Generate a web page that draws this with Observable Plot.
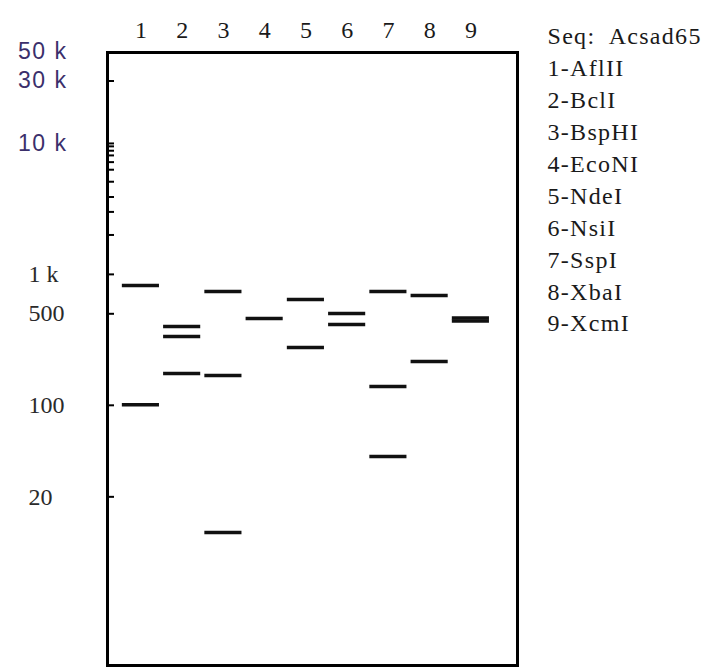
<!DOCTYPE html>
<html>
<head>
<meta charset="utf-8">
<script src="https://cdn.jsdelivr.net/npm/d3@7"></script>
<script src="https://cdn.jsdelivr.net/npm/@observablehq/plot@0.6"></script>
<style>
  html, body { margin: 0; padding: 0; background: #fff; }
  #chart { width: 707px; height: 668px; }
</style>
</head>
<body>
<div id="chart"></div>
<script>
// ---- data ----
const seqName = "Seq:  Acsad65";
const lanes = [1, 2, 3, 4, 5, 6, 7, 8, 9];
const enzymes = ["AflII", "BclI", "BspHI", "EcoNI", "NdeI", "NsiI", "SspI", "XbaI", "XcmI"];

// bands (fragment sizes, bp) per lane
const bandLane = [1, 1, 2, 2, 2, 3, 3, 3, 4, 5, 5, 6, 6, 7, 7, 7, 8, 8, 9, 9];
const bandSize = [823, 101, 400, 336, 175, 740, 169, 10.7, 461, 643, 277, 503, 414, 740, 139, 40.7, 690, 216, 465, 441];

// marker ticks on the left edge
const ladderTicks = [30000, 10000, 9500, 8800, 8100, 7200, 6300, 5100, 3900, 3000, 2000, 1000, 500, 100, 20];

// axis labels
const sansLabels = ["50 k", "30 k", "10 k"];
const sansValues = [50000, 30000, 10000];
const serifLabels = ["1 k", "500", "100", "20"];
const serifValues = [1000, 500, 100, 20];

// ---- build ----
const bands = bandLane.map((lane, i) => ({lane, size: bandSize[i]}));
const sansRows = sansLabels.map((label, i) => ({label, value: sansValues[i]}));
const serifRows = serifLabels.map((label, i) => ({label, value: serifValues[i]}));
const legendText = [seqName, ...lanes.map((l, i) => `${l}-${enzymes[i]}`)].join("\n");

const halfBand = 0.45;
const serif = "'Liberation Serif', 'Times New Roman', serif";
const sans = "'Liberation Sans', Arial, sans-serif";

const chart = Plot.plot({
  width: 707,
  height: 668,
  marginLeft: 107,
  marginRight: 190,
  marginTop: 52,
  marginBottom: 3,
  x: {type: "linear", domain: [0.19, 10.13], axis: null},
  y: {type: "log", domain: [1.03, 49500], axis: null},
  style: {background: "#fff", overflow: "visible"},
  marks: [
    Plot.tickY(ladderTicks, {y: d => d, insetRight: 403, stroke: "#000", strokeWidth: 2}),
    Plot.ruleY(bands, {
      y: "size",
      x1: d => d.lane - halfBand,
      x2: d => d.lane + halfBand,
      stroke: "#111",
      strokeWidth: 3.5
    }),
    Plot.frame({stroke: "#000", strokeWidth: 3}),
    Plot.text(lanes, {
      x: d => d,
      text: d => String(d),
      frameAnchor: "top",
      dy: -32,
      fontFamily: serif,
      fontSize: 24,
      fill: "#1a1a1a"
    }),
    Plot.text(sansRows, {
      y: "value",
      text: "label",
      frameAnchor: "left",
      textAnchor: "end",
      dx: -40,
      fontFamily: sans,
      fontSize: 23,
      fill: "#3b2f6b"
    }),
    Plot.text(serifRows, {
      y: "value",
      text: "label",
      frameAnchor: "left",
      textAnchor: "start",
      dx: -79,
      fontFamily: serif,
      fontSize: 24,
      fill: "#2a2a2a"
    }),
    Plot.text([legendText], {
      frameAnchor: "top-right",
      textAnchor: "start",
      lineAnchor: "top",
      dx: 30,
      dy: -31,
      lineHeight: 1.33,
      fontFamily: serif,
      fontSize: 24,
      fill: "#1a1a1a"
    })
  ]
});
const textGroups = d3.select(chart).selectAll('g[aria-label="text"]').nodes();
d3.select(textGroups[1]).attr("letter-spacing", 1.5);
d3.select(textGroups[3]).attr("letter-spacing", 1.3);
document.getElementById("chart").appendChild(chart);
</script>
</body>
</html>
